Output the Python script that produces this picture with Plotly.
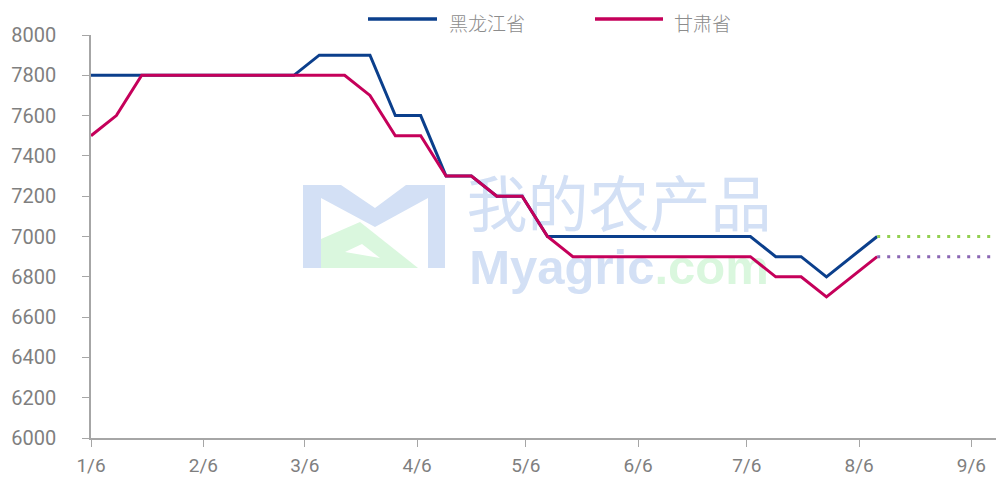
import plotly.graph_objects as go

# ---------------- data ----------------
dates = [
    "2023-01-06", "2023-01-13", "2023-01-20", "2023-01-27", "2023-02-03", "2023-02-10",
    "2023-02-17", "2023-02-24", "2023-03-03", "2023-03-10", "2023-03-17", "2023-03-24",
    "2023-03-31", "2023-04-07", "2023-04-14", "2023-04-21", "2023-04-28", "2023-05-05",
    "2023-05-12", "2023-05-19", "2023-05-26", "2023-06-02", "2023-06-09", "2023-06-16",
    "2023-06-23", "2023-06-30", "2023-07-07", "2023-07-14", "2023-07-21", "2023-07-28",
    "2023-08-04", "2023-08-11",
]
heilongjiang = [
    7800, 7800, 7800, 7800, 7800, 7800, 7800, 7800, 7800, 7900, 7900, 7900,
    7600, 7600, 7300, 7300, 7200, 7200, 7000, 7000, 7000, 7000, 7000, 7000,
    7000, 7000, 7000, 6900, 6900, 6800, 6900, 7000,
]
gansu = [
    7500, 7600, 7800, 7800, 7800, 7800, 7800, 7800, 7800, 7800, 7800, 7700,
    7500, 7500, 7300, 7300, 7200, 7200, 7000, 6900, 6900, 6900, 6900, 6900,
    6900, 6900, 6900, 6800, 6800, 6700, 6800, 6900,
]
forecast_dates = ["2023-08-11", "2023-08-18", "2023-08-25", "2023-09-01", "2023-09-08", "2023-09-15"]
forecast_heilongjiang = [7000, 7000, 7000, 7000, 7000, 7000]
forecast_gansu = [6900, 6900, 6900, 6900, 6900, 6900]

tick_dates = ["2023-01-06", "2023-02-06", "2023-03-06", "2023-04-06", "2023-05-06",
              "2023-06-06", "2023-07-06", "2023-08-06", "2023-09-06"]
tick_labels = ["1/6", "2/6", "3/6", "4/6", "5/6", "6/6", "7/6", "8/6", "9/6"]
x_range = ["2023-01-06", "2023-09-15"]
y_ticks = list(range(6000, 8001, 200))

series_names = ["黑龙江省", "甘肃省"]
BLUE = "#0B3F8C"
RED = "#C5005A"
GREEN = "#92D050"
PURPLE = "#8A66B4"
GRAY_TXT = "#7F7F7F"
AXIS = "#A6A6A6"

# page body has an 8px margin: the figure starts at (8, 8) in the window
OFF = 8
WIN_W, WIN_H = 1004, 477
PLOT_L, PLOT_R, PLOT_T, PLOT_B = 91, 1004, 35, 438   # plot area in window pixels
W, H = WIN_W - OFF, WIN_H - OFF
ML, MR, MT, MB = PLOT_L - OFF, WIN_W - PLOT_R, PLOT_T - OFF, WIN_H - PLOT_B
PW, PH = PLOT_R - PLOT_L, PLOT_B - PLOT_T


def px(xp):
    return (xp - PLOT_L) / PW


def py(yp):
    return (PLOT_B - yp) / PH


fig = go.Figure()
fig.add_trace(go.Scatter(x=dates, y=heilongjiang, mode="lines", name=series_names[0],
                         line=dict(color=BLUE, width=3), showlegend=False))
fig.add_trace(go.Scatter(x=dates, y=gansu, mode="lines", name=series_names[1],
                         line=dict(color=RED, width=3), showlegend=False))
fig.add_trace(go.Scatter(x=forecast_dates, y=forecast_heilongjiang, mode="lines",
                         line=dict(color=GREEN, width=3, dash="3px,7px"), showlegend=False))
fig.add_trace(go.Scatter(x=forecast_dates, y=forecast_gansu, mode="lines",
                         line=dict(color=PURPLE, width=3, dash="3px,7px"), showlegend=False))

shapes = []
annotations = []

# custom legend (long line samples)
for (x0, x1, tx, name, col) in [(368, 437, 447, series_names[0], BLUE),
                                (595, 663, 672, series_names[1], RED)]:
    shapes.append(dict(type="line", xref="paper", yref="paper",
                       x0=px(x0), x1=px(x1), y0=py(19), y1=py(19),
                       line=dict(color=col, width=3.5)))
    annotations.append(dict(xref="paper", yref="paper", x=px(tx), y=py(22),
                            xanchor="left", yanchor="middle", showarrow=False,
                            text=name, font=dict(family="Noto Sans CJK SC", size=19,
                                                 color="#8C8C8C", weight=300)))

# watermark (drawn below data)
def path(points):
    return "M " + " L ".join(f"{px(a):.5f},{py(b):.5f}" for a, b in points) + " Z"

logo_blue = [(303, 185), (341, 185), (375, 208), (406, 185), (445, 185), (445, 268),
             (428, 268), (428, 198), (375, 227), (321, 198), (321, 268), (303, 268)]
shapes.append(dict(type="path", xref="paper", yref="paper", layer="below",
                   path=path(logo_blue), fillcolor="#D3E0F5", line=dict(width=0)))
logo_green = [(321, 239), (360, 222), (418, 268), (321, 268)]
shapes.append(dict(type="path", xref="paper", yref="paper", layer="below",
                   path=path(logo_green), fillcolor="#DAF7DE", line=dict(width=0)))
logo_hole = [(345, 252), (362, 244), (380, 258)]
shapes.append(dict(type="path", xref="paper", yref="paper", layer="below",
                   path=path(logo_hole), fillcolor="white", line=dict(width=0)))

shapes.append(dict(type="rect", xref="paper", yref="paper", layer="below",
                   x0=px(459), x1=px(779), y0=py(238), y1=py(182),
                   fillcolor="rgba(0,0,0,0)", line=dict(width=0),
                   label=dict(text="我的农产品", textposition="middle center",
                              font=dict(family="Noto Sans CJK SC", size=61, color="#D3E0F5"))))
shapes.append(dict(type="rect", xref="paper", yref="paper", layer="below",
                   x0=px(459), x1=px(779), y0=py(290), y1=py(234),
                   fillcolor="rgba(0,0,0,0)", line=dict(width=0),
                   label=dict(text="Myagric<span style='color:#DAF7DE'>.com</span>",
                              textposition="middle center",
                              font=dict(family="Liberation Sans", size=49, color="#D3E0F5",
                                        weight="bold"))))

fig.update_layout(
    width=W, height=H,
    margin=dict(l=ML, r=MR, t=MT, b=MB, pad=0, autoexpand=False),
    plot_bgcolor="white", paper_bgcolor="white",
    showlegend=False,
    shapes=shapes, annotations=annotations,
    xaxis=dict(type="date", range=x_range, tickvals=tick_dates, ticktext=tick_labels,
               automargin=False,
               showgrid=False, zeroline=False, showline=True, linecolor=AXIS, linewidth=1.5,
               ticks="outside", ticklen=7, tickcolor=AXIS, tickwidth=1.2,
               tickfont=dict(family="Roboto", size=19, color=GRAY_TXT),
               ticklabelstandoff=2),
    yaxis=dict(range=[6000, 8000], tickvals=y_ticks, showgrid=False, zeroline=False,
               automargin=False,
               showline=True, linecolor=AXIS, linewidth=1.5,
               ticks="outside", ticklen=7, tickcolor=AXIS, tickwidth=1.2,
               tickfont=dict(family="Roboto", size=20, color=GRAY_TXT),
               ticklabelstandoff=22),
)

fig.write_html("out.html")
